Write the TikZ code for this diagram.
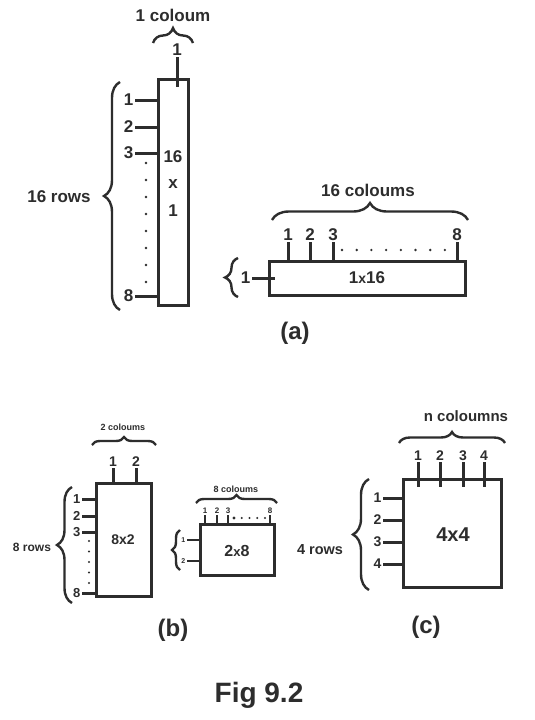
\documentclass[tikz,border=0pt]{standalone}
\usepackage{fontspec}
\setmainfont{Liberation Sans}
\usetikzlibrary{decorations.pathreplacing}
\definecolor{ink}{RGB}{45,45,45}
\def\boldat#1{\fontsize{#1}{#1}\selectfont\bfseries}

\begin{document}
\begin{tikzpicture}[x=1pt, y=-1pt,
		mbox/.style={draw=ink, line width=3pt, outer sep=0pt, inner sep=0pt},
		tick/.style={draw=ink, line width=3pt},
		curly/.style={draw=ink, line width=2.4pt, decorate, decoration={brace, amplitude=#1}},
		lbl/.style={text=ink, inner sep=1.5pt, font=\boldat{#1}},
		lbl/.default=17]
			%%%%% START %%%%%
			\useasboundingbox[fill=white] (0,0) rectangle (535,720);
			
			% (a) 16 x 1
			\node[mbox, minimum width=30pt, minimum height=226pt] (boxA) at (173.5,192.5) {};
			\node[lbl] (inA1) at (173,157) {16};
			\node[lbl] (inA2) at (173,184) {x};
			\node[lbl] (inA3) at (173,211) {1};
			\node[lbl, anchor=south] (cA1) at (177,57) {1};
			\draw[tick] (cA1.south) -- ([yshift=-7pt]cA1.south |- boxA.north);
			\foreach \n/\y in {1/100,2/127,3/153,8/296}{
				\node[lbl, anchor=east] (rA\n) at (135,\y) {\n};
				\draw[tick] (rA\n.east) -- (rA\n.east -| boxA.west);
			}
			\foreach \k in {0,...,7}
				\fill[ink] (146,{163+17*\k}) circle (1.3pt);
			\draw[curly=15pt] (153,43) -- (193,43);
			\node[lbl] (nA) at (173,15) {1 coloum};
			\draw[curly=16pt] (120,310) -- (120,82);
			\node[lbl] (mA) at (59,197) {16 rows};
			
			% (a) 1 x 16
			\node[mbox, minimum width=196pt, minimum height=34pt] (boxB) at (367.5,278.5) {};
			\node[lbl] (inB) at (367,278) {1{\boldat{14}x}16};
			\foreach \n/\x in {1/288,2/310,3/333,8/457}{
				\node[lbl, anchor=south] (cB\n) at (\x,242) {\n};
				\draw[tick] (cB\n.south) -- (cB\n.south |- boxB.north);
			}
			\foreach \k in {0,...,7}
				\fill[ink] ({342+14.7*\k},250) circle (1.3pt);
			\node[lbl, anchor=east] (rB1) at (252,278) {1};
			\draw[tick] (rB1.east) -- ([xshift=5pt]rB1.east -| boxB.west);
			\draw[curly=13pt] (238,297) -- (238,258);
			\draw[curly=17pt] (272,220) -- (468,220);
			\node[lbl] (nB) at (368,190) {16 coloums};
			\node[lbl=24] (capA) at (295,333) {(a)};
			
			% (b) 8 x 2
			\node[mbox, minimum width=55pt, minimum height=113pt] (boxC) at (124,540) {};
			\node[lbl=14] (inC) at (123,540) {8x2};
			\foreach \n/\x in {1/113,2/136}{
				\node[lbl=14, anchor=south] (cC\n) at (\x,468) {\n};
				\draw[tick] (cC\n.south) -- (cC\n.south |- boxC.north);
			}
			\foreach \n/\y in {1/499,2/516,3/532,8/593}{
				\node[lbl=13, anchor=east] (rC\n) at (82,\y) {\n};
				\draw[tick] (rC\n.east) -- (rC\n.east -| boxC.west);
			}
			\foreach \k in {0,...,4}
				\fill[ink] (89,{541+10.5*\k}) circle (1.2pt);
			\draw[curly=8pt] (92,445) -- (156,445);
			\node[lbl=9] (nC) at (123,427) {2 coloums};
			\draw[curly=15pt] (72,603) -- (72,487);
			\node[lbl=12] (mC) at (32,547) {8 rows};
			
			% (b) 2 x 8
			\node[mbox, minimum width=74pt, minimum height=51pt] (boxD) at (237.5,550) {};
			\node[lbl=16] (inD) at (237,551) {2{\boldat{13}x}8};
			\foreach \n/\x in {1/205,2/217,3/228,8/270}{
				\node[lbl=8, anchor=south] (cD\n) at (\x,515) {\n};
				\draw[tick, line width=2.5pt] (cD\n.south) -- (cD\n.south |- boxD.north);
			}
			\fill[ink] (234,518) circle (1.6pt);
			\foreach \k in {1,...,4}
				\fill[ink] ({234+7.75*\k},518) circle (1.1pt);
			\foreach \n/\y in {1/540,2/561}{
				\node[lbl=7, anchor=east] (rD\n) at (187,\y) {\n};
				\draw[tick, line width=2.5pt] (rD\n.east) -- (rD\n.east -| boxD.west);
			}
			\draw[curly=8pt] (196,503) -- (277,503);
			\node[lbl=9] (nD) at (236,489) {8 coloums};
			\draw[curly=8pt] (180,570) -- (180,530);
			\node[lbl=24] (capB) at (173,630) {(b)};
			
			% (c) 4 x 4
			\node[mbox, minimum width=98pt, minimum height=108pt] (boxE) at (452.5,533.5) {};
			\node[lbl=20] (inE) at (453,535) {4x4};
			\foreach \n/\x in {1/418,2/440,3/463,4/484}{
				\node[lbl=14, anchor=south] (cE\n) at (\x,462) {\n};
				\draw[tick] (cE\n.south) -- ([yshift=-7pt]cE\n.south |- boxE.north);
			}
			\foreach \n/\y in {1/498,2/520,3/542,4/564}{
				\node[lbl=14, anchor=east] (rE\n) at (383,\y) {\n};
				\draw[tick] (rE\n.east) -- (rE\n.east -| boxE.west);
			}
			\draw[curly=11pt] (399,443) -- (505,443);
			\node[lbl=15] (nE) at (466,416) {n coloumns};
			\draw[curly=16pt] (369,590) -- (369,479);
			\node[lbl=14.5] (mE) at (320,550) {4 rows};
			\node[lbl=24] (capC) at (426,627) {(c)};
			
			\node[lbl=28] (fig) at (259,695) {Fig 9.2};
			%%%%% END %%%%%
		\end{tikzpicture}
\end{document}
